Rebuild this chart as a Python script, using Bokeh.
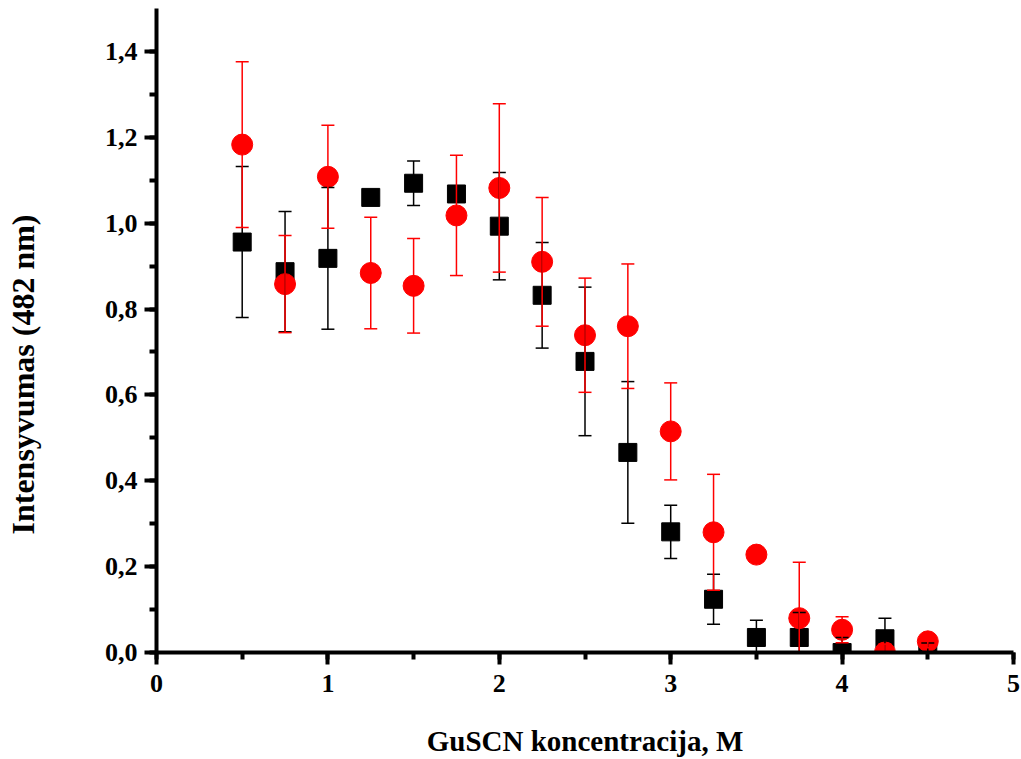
from bokeh.plotting import figure
from bokeh.models import SingleIntervalTicker, CustomJSTickFormatter, Title
from bokeh.embed import file_html
from bokeh.resources import INLINE
import numpy as np

# GuSCN concentration (M)
conc = [0.5, 0.75, 1.0, 1.25, 1.5, 1.75, 2.0, 2.25, 2.5, 2.75, 3.0, 3.25, 3.5, 3.75, 4.0, 4.25, 4.5]

# series 1 (black squares): intensity at 482 nm and its error
black_y = [0.956, 0.887, 0.918, 1.060, 1.093, 1.068, 0.993, 0.832, 0.678, 0.466, 0.281, 0.124, 0.035, 0.035, 0.000, 0.032, 0.002]
black_err = [0.176, 0.140, 0.165, 0.015, 0.052, 0.015, 0.125, 0.123, 0.173, 0.165, 0.062, 0.058, 0.040, 0.058, 0.035, 0.048, 0.020]

# series 2 (red circles)
red_y = [1.183, 0.858, 1.108, 0.884, 0.854, 1.018, 1.082, 0.910, 0.739, 0.760, 0.515, 0.280, 0.228, 0.080, 0.053, 0.000, 0.026]
red_err = [0.193, 0.113, 0.120, 0.130, 0.110, 0.140, 0.196, 0.150, 0.133, 0.145, 0.113, 0.135, 0.015, 0.130, 0.030, 0.020, 0.015]

x_title = "GuSCN koncentracija, M"
y_title = "Intensyvumas (482 nm)"

FONT = "Liberation Serif"

p = figure(width=1021, height=759, x_range=(0, 5), y_range=(0, 1.5),
           output_backend="svg", toolbar_location=None,
           min_border_left=155, min_border_right=8, min_border_top=8, min_border_bottom=107)
p.outline_line_color = None
p.xgrid.visible = False
p.ygrid.visible = False
p.background_fill_color = "white"
p.border_fill_color = "white"

x = np.array(conc)


def draw_errors(y, err, color):
    y = np.array(y)
    e = np.array(err)
    p.segment(x0=x, y0=y - e, x1=x, y1=y + e, line_color=color, line_width=1.5)
    p.scatter(x=x, y=y + e, marker="dash", size=13, line_color=color, line_width=1.5)
    p.scatter(x=x, y=y - e, marker="dash", size=13, line_color=color, line_width=1.5)


p.scatter(x=x, y=black_y, marker="square", size=18, fill_color="black", line_color="black")
p.scatter(x=x, y=red_y, marker="circle", size=21, fill_color="#ff0000", line_color="#ff0000")
draw_errors(black_y, black_err, "black")
draw_errors(red_y, red_err, "#ff0000")

fmt = CustomJSTickFormatter(code="return tick.toFixed(1).replace('.', ',');")

p.xaxis.ticker = SingleIntervalTicker(interval=1, num_minor_ticks=2)
p.yaxis.ticker = SingleIntervalTicker(interval=0.2, num_minor_ticks=2)
p.yaxis.formatter = fmt

for ax in (p.xaxis, p.yaxis):
    ax.axis_line_width = 4
    ax.axis_line_color = "black"
    ax.major_tick_line_width = 4
    ax.minor_tick_line_width = 4
    ax.major_tick_out = 12
    ax.major_tick_in = 0
    ax.minor_tick_out = 7
    ax.minor_tick_in = 0
    ax.major_label_text_font = FONT
    ax.major_label_text_font_style = "bold"
    ax.major_label_text_font_size = "26px"
    ax.major_label_text_color = "black"

p.xaxis.major_label_standoff = 10
p.yaxis.major_label_standoff = 7

# x title as the axis label
p.xaxis.axis_label = x_title
p.xaxis.axis_label_text_font = FONT
p.xaxis.axis_label_text_font_style = "bold"
p.xaxis.axis_label_text_font_size = "29px"
p.xaxis.axis_label_text_color = "black"
p.xaxis.axis_label_standoff = 30

# blank y axis label keeps a gap between the tick labels and the y title
p.yaxis.axis_label = " "
p.yaxis.axis_label_text_font_size = "10px"
p.yaxis.axis_label_standoff = 41

# y title in the left panel, started from the bottom of the axis
p.add_layout(Title(text=y_title, align="left", offset=118, vertical_align="top", standoff=8,
                   text_font=FONT, text_font_style="bold", text_font_size="32px",
                   text_color="black"), "left")

open("out.html", "w").write(file_html(p, INLINE))
